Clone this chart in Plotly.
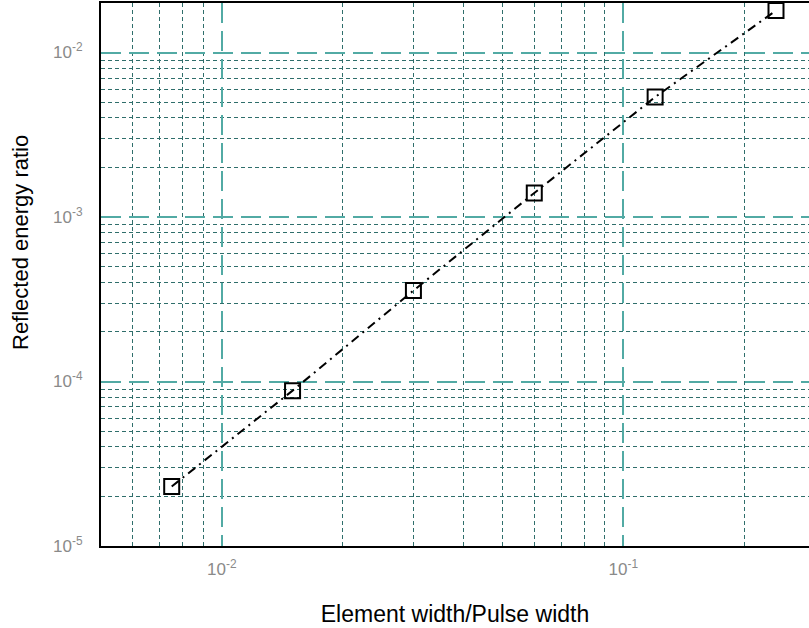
import numpy as np
import plotly.graph_objects as go

x_ratio = [0.0075, 0.015, 0.03, 0.06, 0.12, 0.24]
energy = [2.3e-5, 8.8e-5, 3.57e-4, 1.40e-3, 5.36e-3, 1.8e-2]

x_tickvals = [0.01, 0.1]
x_ticktext = ["10<sup>-2</sup>", "10<sup>-1</sup>"]
y_tickvals = [1e-5, 1e-4, 1e-3, 1e-2]
y_ticktext = ["10<sup>-5</sup>", "10<sup>-4</sup>", "10<sup>-3</sup>", "10<sup>-2</sup>"]

multipliers = [2, 3, 4, 5, 6, 7, 8, 9]
x_minor = [m * d for d in [0.001, 0.01, 0.1] for m in multipliers]
y_minor = [m * d for d in [1e-5, 1e-4, 1e-3] for m in multipliers]

x_title = "Element width/Pulse width"
y_title = "Reflected energy ratio"

major_grid = "#52aaa4"
minor_grid = "#2f6e6b"
tick_font = dict(family="Liberation Sans, Arial", color="#8a8a8a", size=17)

fig = go.Figure()
fig.add_trace(go.Scatter(
    x=x_ratio, y=energy, mode="lines+markers",
    line=dict(color="black", width=2, dash="9px,5px,2px,5px"),
    marker=dict(symbol="square-open", size=15, color="black", line=dict(width=2)),
    showlegend=False,
))

fig.update_layout(
    width=809, height=628,
    margin=dict(l=101, r=0, t=3, b=82),
    paper_bgcolor="white", plot_bgcolor="white",
    font=dict(family="Liberation Sans, Arial", color="#8a8a8a", size=17),
)
fig.update_xaxes(
    type="log", range=[np.log10(0.005), np.log10(0.29)],
    tickmode="array", tickvals=x_tickvals, ticktext=x_ticktext, ticks="",
    tickfont=tick_font, ticklabelstandoff=7,
    showgrid=True, gridcolor=major_grid, gridwidth=1.5, griddash="20px,8px",
    minor=dict(tickmode="array", tickvals=x_minor, showgrid=True, gridcolor=minor_grid,
               gridwidth=1, griddash="4px,3px", ticks=""),
    showline=True, linecolor="black", linewidth=2, mirror=True,
    zeroline=False,
    title=dict(text=x_title, font=dict(family="Liberation Sans, Arial", color="black", size=23), standoff=27),
)
fig.update_yaxes(
    type="log", range=[-5, np.log10(0.02)],
    tickmode="array", tickvals=y_tickvals, ticktext=y_ticktext, ticks="",
    tickfont=tick_font, ticklabelstandoff=13,
    showgrid=True, gridcolor=major_grid, gridwidth=1.5, griddash="20px,8px",
    minor=dict(tickmode="array", tickvals=y_minor, showgrid=True, gridcolor=minor_grid,
               gridwidth=1, griddash="4px,3px", ticks=""),
    showline=True, linecolor="black", linewidth=2, mirror=False,
    zeroline=False,
)
fig.add_annotation(
    text=y_title, textangle=-90, showarrow=False,
    xref="paper", yref="paper", x=-81 / 708, y=(546 - 243) / 543,
    xanchor="center", yanchor="middle",
    font=dict(family="Liberation Sans, Arial", color="black", size=22),
)

fig.write_html("out.html")
